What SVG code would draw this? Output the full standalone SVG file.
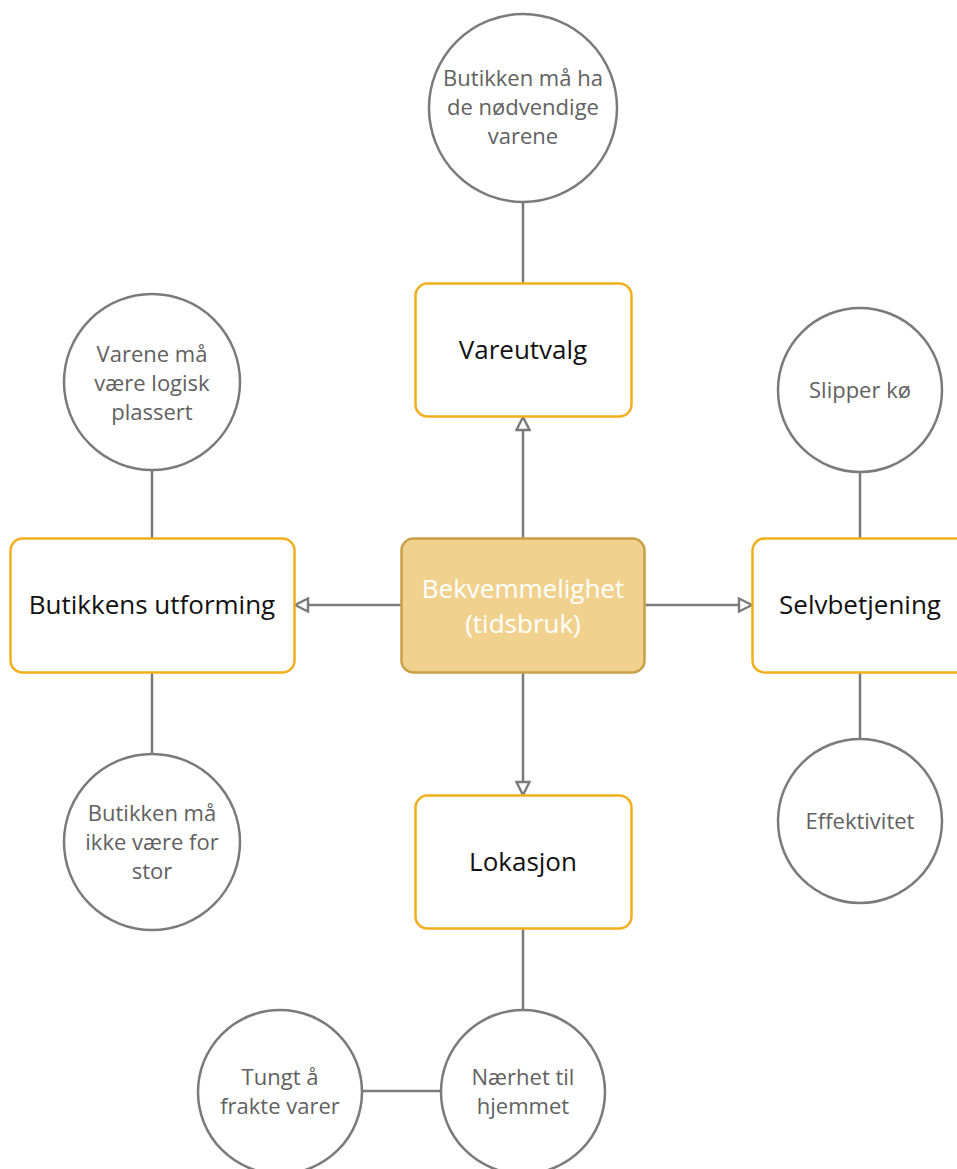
<svg xmlns="http://www.w3.org/2000/svg" width="957" height="1169" viewBox="0 0 957 1169">
  <style>
    .box { fill: #ffffff; stroke: #f2ae1c; stroke-width: 2.5; }
    .core { fill: #f0d28e; stroke: #c9a048; stroke-width: 2.5; }
    .bubble { fill: #ffffff; stroke: #7a7a7a; stroke-width: 2.5; }
    .link { stroke: #7a7a7a; stroke-width: 2.5; fill: none; }
    .label { font-family: "Open Sans", "Noto Sans", "DejaVu Sans", sans-serif; font-size: 26px; fill: #111111; text-anchor: middle; }
    .core-label { font-family: "Open Sans", "Noto Sans", "DejaVu Sans", sans-serif; font-size: 26px; fill: #ffffff; text-anchor: middle; }
    .note { font-family: "Open Sans", "Noto Sans", "DejaVu Sans", sans-serif; font-size: 22px; fill: #616161; text-anchor: middle; }
  </style>
  <defs>
    <marker id="hollow" viewBox="0 0 16 16" refX="15" refY="8" markerWidth="16" markerHeight="16" markerUnits="userSpaceOnUse" orient="auto">
      <path d="M2,1.5 L15,8 L2,14.5 Z" fill="#ffffff" stroke="#7a7a7a" stroke-width="2.4" stroke-linejoin="miter"/>
    </marker>
  </defs>
  <rect width="957" height="1169" fill="#ffffff"/>

  <!-- connectors -->
  <g id="connectors">
    <line class="link" x1="523" y1="538" x2="523" y2="417" marker-end="url(#hollow)"/>
    <line class="link" x1="401" y1="605" x2="295" y2="605" marker-end="url(#hollow)"/>
    <line class="link" x1="645" y1="605" x2="752" y2="605" marker-end="url(#hollow)"/>
    <line class="link" x1="523" y1="673" x2="523" y2="795" marker-end="url(#hollow)"/>
    <line class="link" x1="523" y1="202" x2="523" y2="283"/>
    <line class="link" x1="152" y1="470" x2="152" y2="538"/>
    <line class="link" x1="152" y1="673" x2="152" y2="754"/>
    <line class="link" x1="860" y1="472" x2="860" y2="538"/>
    <line class="link" x1="860" y1="673" x2="860" y2="740"/>
    <line class="link" x1="523" y1="929" x2="523" y2="1010"/>
    <line class="link" x1="362" y1="1091" x2="441" y2="1091"/>
  </g>

  <!-- central node -->
  <g id="bekvemmelighet">
    <rect class="core" x="401.5" y="538.5" width="243" height="134" rx="12"/>
    <text class="core-label" x="523" y="598">Bekvemmelighet</text>
    <text class="core-label" x="523" y="633">(tidsbruk)</text>
  </g>

  <!-- factor boxes -->
  <g id="vareutvalg">
    <rect class="box" x="415.5" y="283.5" width="216" height="133" rx="12"/>
    <text class="label" x="523" y="359">Vareutvalg</text>
  </g>
  <g id="butikkens-utforming">
    <rect class="box" x="10.5" y="538.5" width="284" height="134" rx="12"/>
    <text class="label" x="152" y="614">Butikkens utforming</text>
  </g>
  <g id="selvbetjening">
    <rect class="box" x="752.5" y="538.5" width="220" height="134" rx="12"/>
    <text class="label" x="860" y="614">Selvbetjening</text>
  </g>
  <g id="lokasjon">
    <rect class="box" x="415.5" y="795.5" width="216" height="133" rx="12"/>
    <text class="label" x="523" y="871">Lokasjon</text>
  </g>

  <!-- detail bubbles -->
  <g id="nodvendige-varer">
    <circle class="bubble" cx="523" cy="108" r="94"/>
    <text class="note" x="523" y="86">Butikken må ha</text>
    <text class="note" x="523" y="115">de nødvendige</text>
    <text class="note" x="523" y="144">varene</text>
  </g>
  <g id="logisk-plassert">
    <circle class="bubble" cx="152" cy="382" r="88"/>
    <text class="note" x="152" y="362">Varene må</text>
    <text class="note" x="152" y="391">være logisk</text>
    <text class="note" x="152" y="420">plassert</text>
  </g>
  <g id="ikke-for-stor">
    <circle class="bubble" cx="152" cy="842" r="88"/>
    <text class="note" x="152" y="821">Butikken må</text>
    <text class="note" x="152" y="850">ikke være for</text>
    <text class="note" x="152" y="879">stor</text>
  </g>
  <g id="slipper-ko">
    <circle class="bubble" cx="860" cy="390" r="82"/>
    <text class="note" x="860" y="398">Slipper kø</text>
  </g>
  <g id="effektivitet">
    <circle class="bubble" cx="860" cy="821" r="82"/>
    <text class="note" x="860" y="829">Effektivitet</text>
  </g>
  <g id="naerhet">
    <circle class="bubble" cx="523" cy="1092" r="82"/>
    <text class="note" x="523" y="1085">Nærhet til</text>
    <text class="note" x="523" y="1114">hjemmet</text>
  </g>
  <g id="tungt-a-frakte">
    <circle class="bubble" cx="280" cy="1092" r="82"/>
    <text class="note" x="280" y="1085">Tungt å</text>
    <text class="note" x="280" y="1114">frakte varer</text>
  </g>
</svg>
